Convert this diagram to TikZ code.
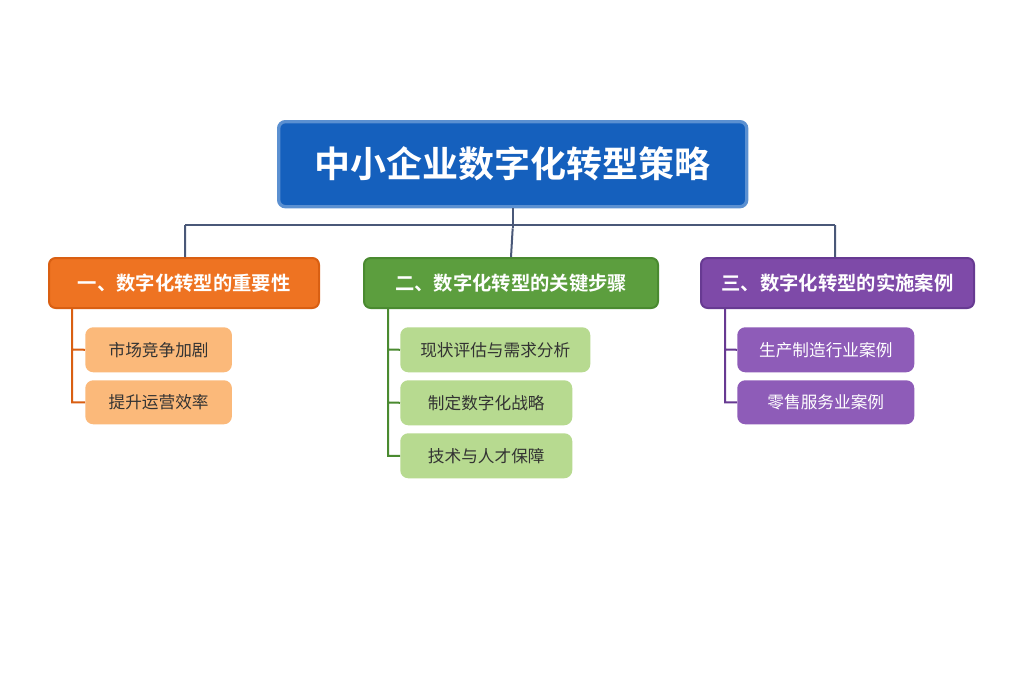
\documentclass[tikz,border=0pt]{standalone}
\usepackage{fontspec}
\setmainfont{Noto Sans CJK SC}
\newfontfamily\cjkb{Noto Sans CJK SC Bold}
\definecolor{tblue}{HTML}{1560BD}
\definecolor{tblueb}{HTML}{0D47A1}
\definecolor{oh}{HTML}{EE7322}
\definecolor{ohb}{HTML}{D95F12}
\definecolor{oc}{HTML}{FBB97A}
\definecolor{gh}{HTML}{5C9E3E}
\definecolor{ghb}{HTML}{4A8A30}
\definecolor{gc}{HTML}{B7DA90}
\definecolor{ph}{HTML}{7E4AA8}
\definecolor{phb}{HTML}{673A92}
\definecolor{pc}{HTML}{8E5CB8}
\definecolor{conn}{HTML}{4A5878}
\tikzset{x=0.75pt,y=-0.75pt,
 box/.style={rounded corners=5pt,inner sep=0pt,anchor=north west},
 head/.style={box,draw,line width=1.5pt,text=white,font=\cjkb\fontsize{14.5}{16}\selectfont},
 child/.style={box,rounded corners=6pt,font=\fontsize{12.5}{14}\selectfont,text=black!80},
 lk/.style={line width=1.5pt}}
\begin{document}
\begin{tikzpicture}
\useasboundingbox (0,0) rectangle (1024,683);
\fill[white] (0,0) rectangle (1024,683);
\node[box,draw=tblue!70,line width=2.5pt,fill=tblue,text=white,minimum width=351pt,minimum height=63.75pt,font=\cjkb\fontsize{27}{30}\selectfont] (t) at (277,120) {中小企业数字化转型策略};
\node[head,fill=oh,draw=ohb,minimum width=202.5pt,minimum height=37.5pt] (h1) at (48,257) {一、数字化转型的重要性};
\node[head,fill=gh,draw=ghb,minimum width=220.5pt,minimum height=37.5pt] (h2) at (363,257) {二、数字化转型的关键步骤};
\node[head,fill=ph,draw=phb,minimum width=204.75pt,minimum height=37.5pt] (h3) at (700,257) {三、数字化转型的实施案例};
\draw[conn,lk] (t.south) -- ++(0,20) coordinate (m) (185,225) -- (835,225);
\draw[conn,lk] (185,225) -- (185,257) (m) -- (h2.north) (835,225) -- (835,257);
% orange
\node[child,fill=oc,minimum width=110pt,minimum height=33.75pt] (o1) at (85,327) {市场竞争加剧};
\node[child,fill=oc,minimum width=110pt,minimum height=33pt] (o2) at (85,380) {提升运营效率};
\draw[ohb,lk] (72,307) |- (o2.west) (72,349.5) -- (o1.west);
% green
\node[child,fill=gc,minimum width=142.5pt,minimum height=33.75pt] (g1) at (400,327) {现状评估与需求分析};
\node[child,fill=gc,minimum width=129pt,minimum height=33.75pt] (g2) at (400,380) {制定数字化战略};
\node[child,fill=gc,minimum width=129pt,minimum height=33.75pt] (g3) at (400,433) {技术与人才保障};
\draw[ghb,lk] (388,307) |- (g3.west) (388,349.5) -- (g1.west) (388,402.5) -- (g2.west);
% purple
\node[child,fill=pc,text=white,minimum width=132.75pt,minimum height=33.75pt] (p1) at (737,327) {生产制造行业案例};
\node[child,fill=pc,text=white,minimum width=132.75pt,minimum height=33pt] (p2) at (737,380) {零售服务业案例};
\draw[phb,lk] (725,307) |- (p2.west) (725,349.5) -- (p1.west);
\end{tikzpicture}
\end{document}
